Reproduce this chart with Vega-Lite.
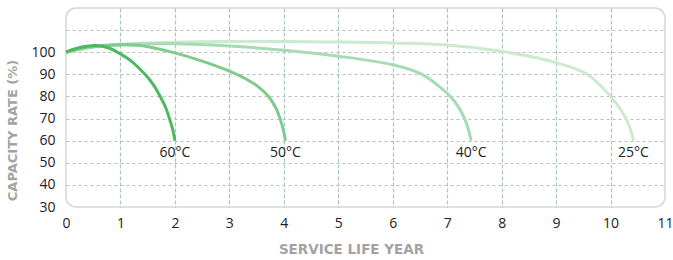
{
  "$schema": "https://vega.github.io/schema/vega-lite/v6.json",
  "width": 599,
  "height": 199,
  "autosize": "none",
  "padding": {"left": 66, "top": 8, "right": 8, "bottom": 53},
  "background": "white",
  "config": {
    "view": {"stroke": "#d6d6d6", "strokeWidth": 1.5, "cornerRadius": 10},
    "font": "Open Sans",
    "axis": {"labelOverlap": false, "labelFlush": false, "labelBound": false}
  },
  "datasets": {
    "curves": [
      {"temp": "25°C", "year": 0, "rate": 100},
      {"temp": "25°C", "year": 0.5, "rate": 102.4},
      {"temp": "25°C", "year": 1, "rate": 103.7},
      {"temp": "25°C", "year": 2, "rate": 104.5},
      {"temp": "25°C", "year": 3, "rate": 104.8},
      {"temp": "25°C", "year": 4, "rate": 104.8},
      {"temp": "25°C", "year": 5, "rate": 104.6},
      {"temp": "25°C", "year": 6, "rate": 104.2},
      {"temp": "25°C", "year": 7, "rate": 103.3},
      {"temp": "25°C", "year": 8, "rate": 100.4},
      {"temp": "25°C", "year": 9, "rate": 95.3},
      {"temp": "25°C", "year": 9.57, "rate": 90},
      {"temp": "25°C", "year": 10, "rate": 80},
      {"temp": "25°C", "year": 10.2, "rate": 73.5},
      {"temp": "25°C", "year": 10.34, "rate": 67},
      {"temp": "25°C", "year": 10.42, "rate": 60},
      {"temp": "40°C", "year": 0, "rate": 100},
      {"temp": "40°C", "year": 0.5, "rate": 102.4},
      {"temp": "40°C", "year": 1, "rate": 103.4},
      {"temp": "40°C", "year": 2, "rate": 103.8},
      {"temp": "40°C", "year": 3, "rate": 102.8},
      {"temp": "40°C", "year": 4, "rate": 100.9},
      {"temp": "40°C", "year": 5, "rate": 98.2},
      {"temp": "40°C", "year": 6, "rate": 94.3},
      {"temp": "40°C", "year": 6.54, "rate": 90},
      {"temp": "40°C", "year": 6.88, "rate": 84},
      {"temp": "40°C", "year": 7.06, "rate": 80},
      {"temp": "40°C", "year": 7.2, "rate": 75.5},
      {"temp": "40°C", "year": 7.32, "rate": 70},
      {"temp": "40°C", "year": 7.39, "rate": 65},
      {"temp": "40°C", "year": 7.44, "rate": 60},
      {"temp": "50°C", "year": 0, "rate": 100},
      {"temp": "50°C", "year": 0.4, "rate": 102.3},
      {"temp": "50°C", "year": 0.9, "rate": 103.3},
      {"temp": "50°C", "year": 1.3, "rate": 103.1},
      {"temp": "50°C", "year": 1.6, "rate": 102},
      {"temp": "50°C", "year": 2, "rate": 99.7},
      {"temp": "50°C", "year": 2.5, "rate": 96},
      {"temp": "50°C", "year": 3, "rate": 91.5},
      {"temp": "50°C", "year": 3.3, "rate": 88},
      {"temp": "50°C", "year": 3.55, "rate": 84},
      {"temp": "50°C", "year": 3.72, "rate": 80},
      {"temp": "50°C", "year": 3.85, "rate": 75},
      {"temp": "50°C", "year": 3.93, "rate": 70},
      {"temp": "50°C", "year": 3.99, "rate": 65},
      {"temp": "50°C", "year": 4.03, "rate": 60},
      {"temp": "60°C", "year": 0, "rate": 100},
      {"temp": "60°C", "year": 0.2, "rate": 101.8},
      {"temp": "60°C", "year": 0.55, "rate": 103},
      {"temp": "60°C", "year": 0.8, "rate": 101.8},
      {"temp": "60°C", "year": 1, "rate": 99.2},
      {"temp": "60°C", "year": 1.2, "rate": 96},
      {"temp": "60°C", "year": 1.45, "rate": 90},
      {"temp": "60°C", "year": 1.6, "rate": 85.5},
      {"temp": "60°C", "year": 1.73, "rate": 80},
      {"temp": "60°C", "year": 1.83, "rate": 75},
      {"temp": "60°C", "year": 1.9, "rate": 70},
      {"temp": "60°C", "year": 1.96, "rate": 65},
      {"temp": "60°C", "year": 2, "rate": 60}
    ],
    "labels": [
      {"temp": "60°C", "year": 2, "rate": 60},
      {"temp": "50°C", "year": 4.03, "rate": 60},
      {"temp": "40°C", "year": 7.44, "rate": 60},
      {"temp": "25°C", "year": 10.42, "rate": 60}
    ]
  },
  "layer": [
    {
      "data": {"name": "curves"},
      "mark": {"type": "line", "interpolate": "catmull-rom", "strokeWidth": 3},
      "encoding": {
        "x": {
          "field": "year", "type": "quantitative",
          "scale": {"domain": [0, 11], "nice": false, "zero": false},
          "axis": {
            "values": [0, 1, 2, 3, 4, 5, 6, 7, 8, 9, 10, 11], "tickCount": 30, "format": "d",
            "domain": false, "ticks": false, "labelFlush": false, "labelOverlap": false,
            "labelPadding": 9, "labelFontSize": 14, "labelColor": "#222", "labelFont": "Open Sans",
            "grid": true, "gridColor": "#a9c5c6", "gridDash": [4, 2], "gridWidth": 1.2,
            "gridOpacity": {"condition": {"test": "datum.value == 0 || datum.value == 11", "value": 0}, "value": 1},
            "title": "SERVICE LIFE YEAR", "titleFont": "DejaVu Sans", "titleFontSize": 13.5, "titleFontWeight": "bold",
            "titleColor": "#a3a3a3", "titleX": 285, "titleY": 42, "titleBaseline": "middle", "titleAlign": "center"
          }
        },
        "y": {
          "field": "rate", "type": "quantitative",
          "scale": {"domain": [30, 120], "nice": false, "zero": false},
          "axis": {
            "values": [30, 40, 50, 60, 70, 80, 90, 100, 110], "tickCount": 30, "format": "d",
            "labelExpr": "datum.value > 100 ? '' : datum.label",
            "domain": false, "ticks": false, "labelFlush": false, "labelOverlap": false,
            "labelPadding": 11, "labelFontSize": 14, "labelColor": "#222", "labelFont": "Open Sans",
            "grid": true, "gridColor": "#bdbdbd", "gridDash": [3, 3], "gridWidth": 1,
            "gridOpacity": {"condition": {"test": "datum.value == 30", "value": 0}, "value": 1},
            "title": "CAPACITY RATE (%)", "titleFont": "DejaVu Sans", "titleFontSize": 13, "titleFontWeight": "bold",
            "titleColor": "#a3a3a3", "titleAngle": -90, "titleX": -53.5, "titleY": 122, "titleBaseline": "middle", "titleAlign": "center"
          }
        },
        "color": {
          "field": "temp", "type": "nominal",
          "scale": {"domain": ["25°C", "40°C", "50°C", "60°C"], "range": ["#cbeacf", "#a6dcb1", "#7ecb8d", "#4cb960"]},
          "legend": null
        }
      }
    },
    {
      "data": {"name": "labels"},
      "mark": {"type": "text", "dy": 12, "fontSize": 14, "font": "Open Sans", "color": "#222", "baseline": "middle", "align": "center"},
      "encoding": {
        "x": {"field": "year", "type": "quantitative"},
        "y": {"field": "rate", "type": "quantitative"},
        "text": {"field": "temp"}
      }
    }
  ]
}
